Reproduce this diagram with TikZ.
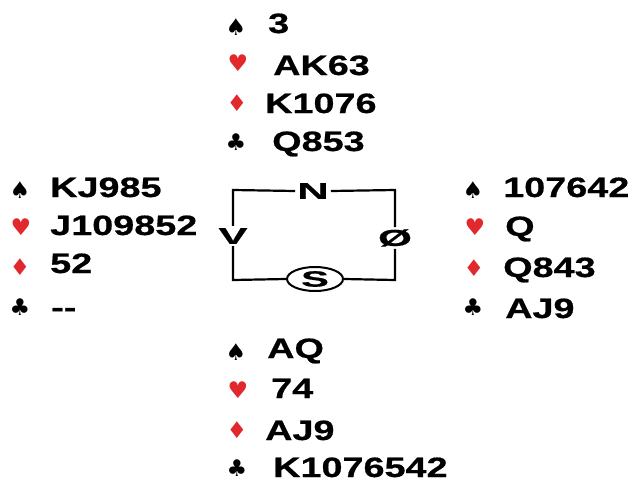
\documentclass[tikz,border=0pt]{standalone}
\usepackage{fontspec}
\usetikzlibrary{shapes.geometric}
\newfontfamily\cardfont[FakeStretch=1.35,FakeBold=0.6]{Liberation Sans Bold}
\newfontfamily\compfont[FakeStretch=1.9,FakeBold=0.6]{Liberation Sans Bold}
\newfontfamily\symfont{DejaVu Sans}
\definecolor{suitred}{RGB}{225,40,45}
\tikzset{
  hand/.style={anchor=base west, inner sep=0pt, font=\cardfont\fontsize{28}{28}\selectfont},
  suit/.style={anchor=center, inner sep=0pt, font=\symfont\fontsize{23}{23}\selectfont},
  redsuit/.style={suit, text=suitred},
  compass/.style={inner sep=2pt, fill=white, font=\compfont\fontsize{23}{23}\selectfont},
  boxline/.style={line width=2.2pt}
}
\begin{document}
\begin{tikzpicture}[x=1pt,y=-1pt]
\useasboundingbox (0,0) rectangle (629,482);
% North
\node[suit] (ns) at (236,27) {♠};
\node[redsuit] (nh) at (238,63) {♥};
\node[redsuit] (nd) at (237,103) {♦};
\node[suit] (nc) at (236,142) {♣};
\node[hand] (nst) at (268,33) {3};
\node[hand] (nht) at (273,75) {AK63};
\node[hand] (ndt) at (265,113) {K1076};
\node[hand] (nct) at (272,151) {Q853};
% West
\node[suit] (ws) at (20,190) {♠};
\node[redsuit] (wh) at (21,227) {♥};
\node[redsuit] (wd) at (20,267) {♦};
\node[suit] (wc) at (20,307) {♣};
\node[hand] (wst) at (50,197) {KJ985};
\node[hand] (wht) at (50,235) {J109852};
\node[hand] (wdt) at (50,273) {52};
\node[hand] (wct) at (51,317) {--};
% East
\node[suit] (es) at (473,190) {♠};
\node[redsuit] (eh) at (475,227) {♥};
\node[redsuit] (ed) at (474,268) {♦};
\node[suit] (ec) at (473,307) {♣};
\node[hand] (est) at (503,197) {107642};
\node[hand] (eht) at (505,236) {Q};
\node[hand] (edt) at (503,277) {Q843};
\node[hand] (ect) at (505,318) {AJ9};
% South
\node[suit] (ss) at (236,352) {♠};
\node[redsuit] (sh) at (238,390) {♥};
\node[redsuit] (sd) at (237,430) {♦};
\node[suit] (sc) at (237,468) {♣};
\node[hand] (sst) at (267,358) {AQ};
\node[hand] (sht) at (271,398) {74};
\node[hand] (sdt) at (265,440) {AJ9};
\node[hand] (sct) at (273,477) {K1076542};
% Compass
\coordinate (tl) at (233,190);
\coordinate (tr) at (395,190);
\coordinate (br) at (395,280);
\coordinate (bl) at (233,280);
\node[compass] (N) at (313,191) {N};
\node[compass] (V) at (233,236) {V};
\node[compass] (O) at (395,238) {Ø};
\node[ellipse, draw, line width=2pt, fill=white, minimum width=56pt, minimum height=24pt, inner sep=0pt, font=\compfont\fontsize{22}{22}\selectfont] (S) at (315,279) {S};
\draw[boxline] (N.east) -- (tr) -- (O.north);
\draw[boxline] (O.south) -- (br) -- (S.east);
\draw[boxline] (S.west) -- (bl) -- (V.south);
\draw[boxline] (V.north) -- (tl) -- (N.west);
\end{tikzpicture}
\end{document}
